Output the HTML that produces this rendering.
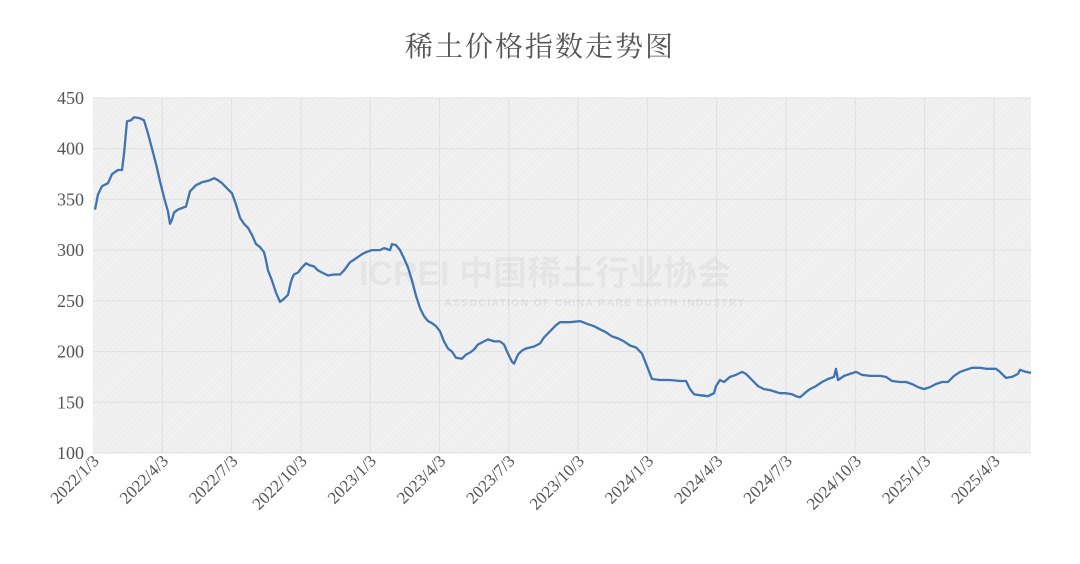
<!DOCTYPE html>
<html><head><meta charset="utf-8"><style>
html,body{margin:0;padding:0;background:#fff;width:1080px;height:564px;overflow:hidden}
</style></head><body>
<svg width="1080" height="564" viewBox="0 0 1080 564" xmlns="http://www.w3.org/2000/svg">
<defs>
<pattern id="hatch" width="4" height="4" patternUnits="userSpaceOnUse" patternTransform="rotate(45)">
<rect width="4" height="4" fill="#f1f1f1"/><line x1="0" y1="0" x2="0" y2="4" stroke="#e6e6e6" stroke-width="1"/>
</pattern>
</defs>
<text x="540" y="56" text-anchor="middle" font-family="'Liberation Serif','Noto Serif CJK SC',serif" font-size="28" fill="#555" letter-spacing="2">稀土价格指数走势图</text>
<rect x="93" y="98" width="938" height="355" fill="url(#hatch)"/>
<g id="grid" stroke="#e0e0e0" stroke-width="1"></g>
<g font-family="'Liberation Serif',serif" font-size="18" fill="#555" text-anchor="end" id="ylab"></g>
<g font-family="'Liberation Serif',serif" font-size="17" fill="#555" id="xlab"></g>
<text x="545" y="285" text-anchor="middle" font-family="'Liberation Sans','Noto Sans CJK SC',sans-serif" font-size="34" font-weight="bold" fill="#000" opacity="0.04">ICREI 中国稀土行业协会</text>
<text x="595" y="306" text-anchor="middle" font-family="'Liberation Sans',sans-serif" font-size="10" font-weight="bold" fill="#000" opacity="0.06" letter-spacing="1.5">ASSOCIATION OF CHINA RARE EARTH INDUSTRY</text>
<polyline id="line" fill="none" stroke="#3f74b0" stroke-width="2.3" stroke-linejoin="round"/>
</svg>
<script>
var ns="http://www.w3.org/2000/svg";
function Y(v){return 453-(v-100)*355/350;}
var g=document.getElementById('grid'),yl=document.getElementById('ylab'),xl=document.getElementById('xlab');
for(var v=100;v<=450;v+=50){var y=Y(v);var l=document.createElementNS(ns,'line');l.setAttribute('x1',93);l.setAttribute('x2',1031);l.setAttribute('y1',y);l.setAttribute('y2',y);g.appendChild(l);
var t=document.createElementNS(ns,'text');t.setAttribute('x',84);t.setAttribute('y',y+6);t.textContent=v;yl.appendChild(t);}
var labs=["2022/1/3","2022/4/3","2022/7/3","2022/10/3","2023/1/3","2023/4/3","2023/7/3","2023/10/3","2024/1/3","2024/4/3","2024/7/3","2024/10/3","2025/1/3","2025/4/3"];
for(var i=0;i<labs.length;i++){var x=93+i*69.3;
if(i>0){var l=document.createElementNS(ns,'line');l.setAttribute('x1',x);l.setAttribute('x2',x);l.setAttribute('y1',98);l.setAttribute('y2',453);g.appendChild(l);}
var t=document.createElementNS(ns,'text');t.setAttribute('text-anchor','end');t.setAttribute('transform','translate('+(x+7)+',462) rotate(-45)');t.textContent=labs[i];xl.appendChild(t);}
var d=[95,340,98,355,102,363,108,366,112,375,118,379,122,379,124,395,127,427,131,428,134,431,140,430,144,428,148,415,152,400,156,385,160,368,162,360,164,352,166,345,168,338,170,326,172,330,174,337,178,340,186,343,190,358,196,364,202,367,210,369,214,371,218,369,222,366,228,360,232,356,236,345,240,332,244,326,248,322,252,315,256,306,260,303,264,298,266,290,268,280,272,270,276,258,280,249,284,252,288,256,290,265,292,272,294,276,298,278,302,283,306,287,310,285,314,284,318,280,322,278,328,275,334,276,340,276,344,280,350,288,356,292,362,296,366,298,372,300,380,300,384,302,390,300,392,306,396,305,400,300,404,292,408,283,412,270,416,255,420,243,424,235,428,230,432,228,436,225,440,220,444,210,448,203,452,200,456,194,462,193,466,197,470,199,474,202,478,207,484,210,488,212,494,210,500,210,504,207,508,198,512,190,514,188,518,197,522,201,526,203,534,205,540,208,544,214,550,220,556,226,560,229,570,229,580,230,588,227,594,225,600,222,606,219,612,215,618,213,624,210,630,206,636,204,642,198,646,188,650,178,652,173,660,172,670,172,680,171,686,171,690,163,694,158,700,157,708,156,714,159,716,166,720,172,724,170,730,175,736,177,742,180,746,178,750,174,754,170,758,166,764,163,770,162,780,159,786,159,792,158,796,156,800,155,806,160,810,163,816,166,822,170,828,173,834,175,836,183,838,172,844,176,850,178,856,180,862,177,870,176,880,176,886,175,892,171,900,170,906,170,912,168,918,165,924,163,930,165,936,168,942,170,948,170,954,176,960,180,966,182,972,184,980,184,986,183,996,183,1000,180,1006,174,1012,175,1018,178,1020,182,1026,180,1031,179];
var p=[];for(var i=0;i<d.length;i+=2)p.push(d[i]+','+Y(d[i+1]).toFixed(1));
document.getElementById('line').setAttribute('points',p.join(' '));
</script>
</body></html>
